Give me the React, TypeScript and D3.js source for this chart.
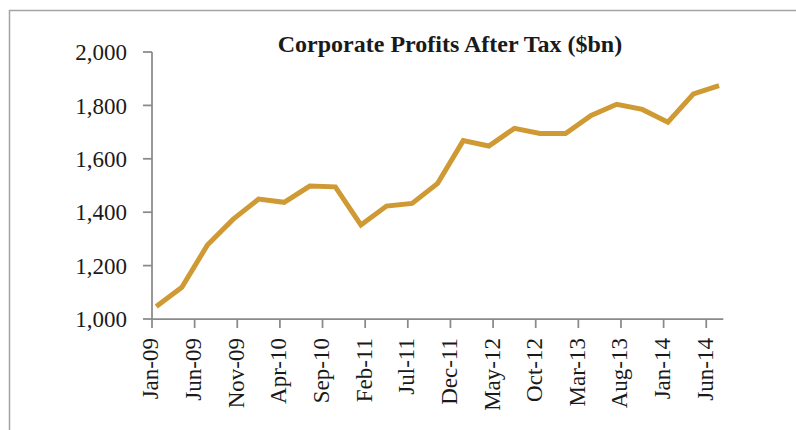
import React from "react";
import * as d3 from "d3";

const title = "Corporate Profits After Tax ($bn)";
// quarterly observations, Jan-09 .. Jul-14 (month index from Jan-09)
const months = [0, 3, 6, 9, 12, 15, 18, 21, 24, 27, 30, 33, 36, 39, 42, 45, 48, 51, 54, 57, 60, 63, 66];
const profits = [1047, 1119, 1277, 1373, 1449, 1437, 1498, 1495, 1352, 1423, 1433, 1508, 1668, 1648, 1714, 1695, 1695, 1762, 1804, 1785, 1737, 1843, 1874];
const xTickLabels = ["Jan-09", "Jun-09", "Nov-09", "Apr-10", "Sep-10", "Feb-11", "Jul-11", "Dec-11", "May-12", "Oct-12", "Mar-13", "Aug-13", "Jan-14", "Jun-14"];
const xTickMonths = [0, 5, 10, 15, 20, 25, 30, 35, 40, 45, 50, 55, 60, 65];
const yTicks = [1000, 1200, 1400, 1600, 1800, 2000];

export default function App() {
  const W = 796, H = 430;
  const left = 152, right = 723.3, top = 52, bottom = 319;
  const totalMonths = 67;
  const x = d3.scaleLinear().domain([0, totalMonths]).range([left, right]);
  const y = d3.scaleLinear().domain([1000, 2000]).range([bottom, top]);
  const line = d3.line<number>()
    .x((_, i) => x(months[i] + 0.5))
    .y((d) => y(d));
  const axisColor = "#8a8a8a";
  const font = "'Liberation Serif', 'Times New Roman', serif";
  return (
    <svg width={W} height={H} style={{ position: "absolute", left: 0, top: 0, background: "#fff" }}>
      <rect x={9.5} y={10.5} width={900} height={600} fill="#fff" stroke="#a3a3a3" strokeWidth={1.5} />
      <text x={450} y={52} textAnchor="middle" fontFamily={font} fontWeight="bold" fontSize={24} fill="#1a1a1a">{title}</text>
      {/* y axis */}
      <line x1={left} x2={left} y1={top} y2={bottom} stroke={axisColor} strokeWidth={1.75} />
      {yTicks.map((t) => (
        <g key={t}>
          <line x1={left - 9} x2={left} y1={y(t)} y2={y(t)} stroke={axisColor} strokeWidth={1.75} />
          <text x={127} y={y(t)} dy="0.36em" textAnchor="end" fontFamily={font} fontSize={23} fill="#1a1a1a">{d3.format(",")(t)}</text>
        </g>
      ))}
      {/* x axis */}
      <line x1={left} x2={right} y1={bottom} y2={bottom} stroke={axisColor} strokeWidth={1.75} />
      {xTickMonths.map((m, i) => (
        <g key={m}>
          <line x1={x(m)} x2={x(m)} y1={bottom} y2={bottom + 9} stroke={axisColor} strokeWidth={1.75} />
          <text transform={`translate(${x(m)},338) rotate(-90)`} dy="0.28em" textAnchor="end" fontFamily={font} fontSize={23} fill="#1a1a1a">{xTickLabels[i]}</text>
        </g>
      ))}
      <path d={line(profits) || ""} fill="none" stroke="#CF9933" strokeWidth={5} strokeLinejoin="miter" strokeLinecap="butt" />
    </svg>
  );
}
